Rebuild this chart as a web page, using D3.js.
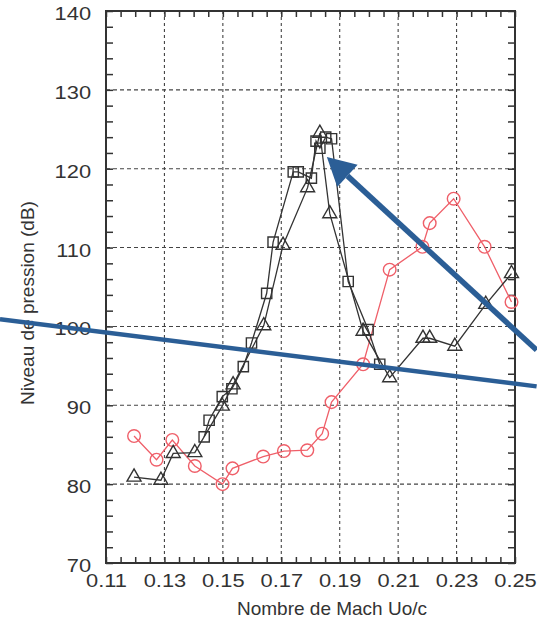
<!DOCTYPE html>
<html>
<head>
<meta charset="utf-8">
<script src="https://cdn.jsdelivr.net/npm/d3@7"></script>
<style>
  html, body { margin: 0; padding: 0; background: #fff; }
  svg { display: block; font-family: "Liberation Sans", Arial, sans-serif; }
</style>
</head>
<body>
<svg id="chart" width="537" height="623"></svg>
<script>
// series (Mach number vs pressure level)
var circleX = [0.1196, 0.1273, 0.1327, 0.1404, 0.1499, 0.1533, 0.1638, 0.1709, 0.1789, 0.1840, 0.1872, 0.1980, 0.2071, 0.2183, 0.2208, 0.2290, 0.2396, 0.2488];
var circleY = [86.1, 83.1, 85.6, 82.3, 80.0, 82.0, 83.5, 84.2, 84.3, 86.4, 90.4, 95.2, 107.2, 110.1, 113.1, 116.2, 110.1, 103.1];

var triX = [0.1196, 0.1288, 0.1330, 0.1404, 0.1498, 0.1535, 0.1640, 0.1706, 0.1790, 0.1832, 0.1866, 0.1980, 0.2071, 0.2185, 0.2208, 0.2294, 0.2400, 0.2488];
var triY = [80.9, 80.5, 83.9, 84.0, 89.9, 92.6, 100.1, 110.3, 117.6, 124.5, 114.3, 99.4, 93.5, 98.5, 98.5, 97.5, 102.8, 106.7];

var sqX = [0.1436, 0.1453, 0.1498, 0.1531, 0.1570, 0.1598, 0.1650, 0.1672, 0.1741, 0.1758, 0.1803, 0.1819, 0.1832, 0.1852, 0.1872, 0.1929, 0.1997, 0.2037];
var sqY = [86.0, 88.1, 91.1, 92.1, 94.9, 97.9, 104.2, 110.7, 119.6, 119.6, 118.8, 123.5, 122.6, 124.0, 123.8, 105.7, 99.6, 95.2];

var xTicks = [0.11, 0.13, 0.15, 0.17, 0.19, 0.21, 0.23, 0.25];
var xTickLabels = ["0.11", "0.13", "0.15", "0.17", "0.19", "0.21", "0.23", "0.25"];
var yTicks = [70, 80, 90, 100, 110, 120, 130, 140];
var yTickLabels = ["70", "80", "90", "100", "110", "120", "130", "140"];

// blue annotation strokes, in data units
var annotLine = [[0.0737, 100.9], [0.2574, 92.4]];
var annotArrow = [[0.2574, 97.0], [0.1856, 121.5]];

var xLabel = "Nombre de Mach Uo/c";
var yLabel = "Niveau de pression (dB)";

var plotL = 106, plotR = 515, plotT = 11, plotB = 563;
var svg = d3.select("#chart");

var x = d3.scaleLinear().domain([0.11, 0.25]).range([plotL, plotR]);
var y = d3.scaleLinear().domain([70, 140]).range([plotB, plotT]);

var xMinor = d3.range(0, 29).map(function(i){ return 0.11 + i * 0.005; });
var yMinor = d3.range(70, 141, 2);

// grid
svg.append("g").selectAll("line").data(xTicks.slice(1, -1)).enter().append("line")
  .attr("x1", d => x(d)).attr("x2", d => x(d))
  .attr("y1", plotT).attr("y2", plotB)
  .attr("stroke", "#444").attr("stroke-width", 1.1).attr("stroke-dasharray", "3,3");
svg.append("g").selectAll("line").data(yTicks.slice(1, -1)).enter().append("line")
  .attr("y1", d => y(d)).attr("y2", d => y(d))
  .attr("x1", plotL).attr("x2", plotR)
  .attr("stroke", "#444").attr("stroke-width", 1.1).attr("stroke-dasharray", "4,3");

// axes: minor ticks on all four sides, pointing in
function styleAxis(g) {
  g.select(".domain").remove();
  g.selectAll("line").attr("stroke", "#333").attr("stroke-width", 1.5);
}
svg.append("g").attr("transform", "translate(0," + plotB + ")")
  .call(d3.axisBottom(x).tickValues(xMinor).tickSize(-6).tickFormat(""))
  .call(styleAxis);
svg.append("g").attr("transform", "translate(0," + plotT + ")")
  .call(d3.axisTop(x).tickValues(xMinor).tickSize(-6).tickFormat(""))
  .call(styleAxis);
svg.append("g").attr("transform", "translate(" + plotL + ",0)")
  .call(d3.axisLeft(y).tickValues(yMinor).tickSize(-7).tickFormat(""))
  .call(styleAxis);
svg.append("g").attr("transform", "translate(" + plotR + ",0)")
  .call(d3.axisRight(y).tickValues(yMinor).tickSize(-7).tickFormat(""))
  .call(styleAxis);

// labelled axes
var xAxis = svg.append("g").attr("transform", "translate(0," + plotB + ")")
  .call(d3.axisBottom(x).tickValues(xTicks).tickSize(0).tickPadding(11)
    .tickFormat((d, i) => xTickLabels[i]));
xAxis.select(".domain").remove();
xAxis.selectAll("text").attr("font-size", 19).attr("fill", "#333")
  .attr("font-family", "Liberation Sans, Arial, sans-serif")
  .attr("transform", "scale(1.15,1)");

var yAxis = svg.append("g").attr("transform", "translate(" + plotL + ",0)")
  .call(d3.axisLeft(y).tickValues(yTicks).tickSize(0).tickPadding(13)
    .tickFormat((d, i) => yTickLabels[i]));
yAxis.select(".domain").remove();
yAxis.selectAll("text").attr("font-size", 19).attr("fill", "#333")
  .attr("font-family", "Liberation Sans, Arial, sans-serif")
  .attr("dy", "0.45em")
  .attr("transform", "scale(1.15,1)");

// frame
svg.append("rect").attr("x", plotL).attr("y", plotT)
  .attr("width", plotR - plotL).attr("height", plotB - plotT)
  .attr("fill", "none").attr("stroke", "#333").attr("stroke-width", 2);

// titles
svg.append("text").attr("x", 332).attr("y", 615).attr("text-anchor", "middle")
  .attr("font-size", 19).attr("fill", "#333").text(xLabel);
svg.append("text").attr("transform", "translate(34,303) rotate(-90)")
  .attr("text-anchor", "middle").attr("font-size", 19).attr("fill", "#333").text(yLabel);

// series
var line = d3.line().x(d => x(d[0])).y(d => y(d[1]));
var black = "#333", red = "#ef5f69";

function drawSeries(xs, ys, color, shape) {
  var pts = xs.map((v, i) => [v, ys[i]]);
  var g = svg.append("g");
  g.append("path").datum(pts).attr("d", line)
    .attr("fill", "none").attr("stroke", color).attr("stroke-width", 1.3);
  g.selectAll("path.m").data(pts).enter().append("path").attr("class", "m")
    .attr("transform", d => "translate(" + x(d[0]) + "," + y(d[1]) + ")")
    .attr("d", d3.symbol().type(shape).size(shape === d3.symbolCircle ? 125 : shape === d3.symbolSquare ? 105 : 85))
    .attr("fill", "none").attr("stroke", color).attr("stroke-width", 1.4);
}
drawSeries(circleX, circleY, red, d3.symbolCircle);
drawSeries(triX, triY, black, d3.symbolTriangle);
drawSeries(sqX, sqY, black, d3.symbolSquare);

// blue annotations
var blue = "#2b5e96";
svg.append("line")
  .attr("x1", x(annotLine[0][0])).attr("y1", y(annotLine[0][1]))
  .attr("x2", x(annotLine[1][0])).attr("y2", y(annotLine[1][1]))
  .attr("stroke", blue).attr("stroke-width", 4.5);

var tx = x(annotArrow[1][0]), ty = y(annotArrow[1][1]);
var sx = x(annotArrow[0][0]), sy = y(annotArrow[0][1]);
var len = Math.hypot(sx - tx, sy - ty);
var ux = (sx - tx) / len, uy = (sy - ty) / len;
var headL = 28, headW = 15;
var bx = tx + ux * headL, by = ty + uy * headL;
svg.append("line")
  .attr("x1", sx).attr("y1", sy).attr("x2", bx).attr("y2", by)
  .attr("stroke", blue).attr("stroke-width", 5.5);
svg.append("path")
  .attr("d", "M" + tx + "," + ty +
    "L" + (bx - uy * headW) + "," + (by + ux * headW) +
    "L" + (bx + uy * headW) + "," + (by - ux * headW) + "Z")
  .attr("fill", blue);
</script>
</body>
</html>
